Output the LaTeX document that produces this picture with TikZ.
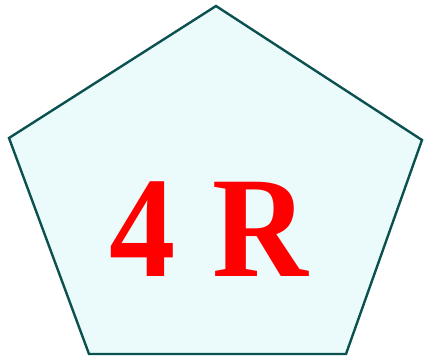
\documentclass[tikz,border=0pt]{standalone}
\usepackage{fontspec}
\setmainfont{Liberation Serif}
\usetikzlibrary{positioning}
\definecolor{penLine}{HTML}{0B5150}
\definecolor{penFill}{HTML}{EBFBFB}
\definecolor{penText}{HTML}{FF0000}
\tikzset{
  pentagon face/.style={
    draw=penLine, fill=penFill, line width=2.4pt, line join=miter,
  },
  big label/.style={
    font=\fontsize{144}{144}\selectfont\bfseries, text=penText,
    inner sep=0pt, anchor=base, xscale=0.92, transform shape,
  },
}
\begin{document}
\begin{tikzpicture}[x=1pt, y=-1pt]
\useasboundingbox (0,0) rectangle (424,357);

% --- PENTAGON CORNERS ---
\coordinate (top)    at (216, 6);
\coordinate (right)  at (422, 140);
\coordinate (botR)   at (346, 354);
\coordinate (botL)   at (89, 354);
\coordinate (left)   at (9, 138);

% --- PENTAGON ---
\draw[pentagon face] (top) -- (right) -- (botR) -- (botL) -- (left) -- cycle;

% --- LABEL ---
\node[big label] (label) at (209, 276) {4 \hspace{4pt}R};

\end{tikzpicture}
\end{document}
